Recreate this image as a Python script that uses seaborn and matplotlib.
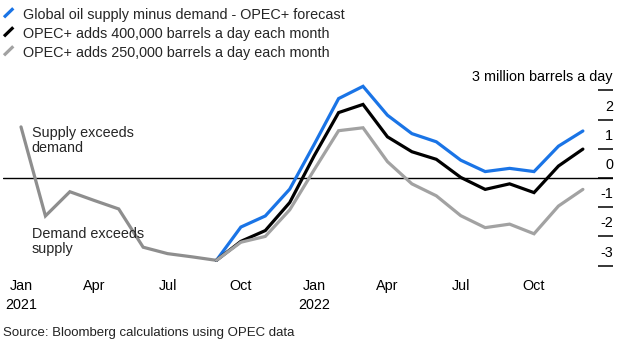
import matplotlib
matplotlib.use("Agg")
import matplotlib.pyplot as plt
from matplotlib.lines import Line2D
import matplotlib.transforms as mtransforms
import numpy as np
import pandas as pd
import seaborn as sns

# Monthly balance, million barrels a day, Jan 2021 .. Dec 2022
history_months = list(range(9))            # Jan .. Sep 2021 (actual)
history = [1.75, -1.30, -0.47, -0.77, -1.06, -2.37, -2.59, -2.70, -2.82]
forecast_months = list(range(8, 24))       # Sep 2021 .. Dec 2022
opec_forecast = [-2.82, -1.68, -1.30, -0.38, 1.15, 2.72, 3.14, 2.15, 1.52,
                 1.24, 0.61, 0.22, 0.33, 0.22, 1.09, 1.61]
adds_400k = [-2.82, -2.17, -1.80, -0.84, 0.76, 2.24, 2.52, 1.41, 0.90,
             0.64, 0.02, -0.39, -0.20, -0.50, 0.41, 0.99]
adds_250k = [-2.82, -2.20, -2.00, -1.09, 0.28, 1.62, 1.72, 0.56, -0.20,
             -0.61, -1.29, -1.70, -1.58, -1.91, -0.96, -0.39]

series_names = ["Global oil supply minus demand - OPEC+ forecast",
                "OPEC+ adds 400,000 barrels a day each month",
                "OPEC+ adds 250,000 barrels a day each month"]
series_values = [opec_forecast, adds_400k, adds_250k]
series_colors = ["#1a74e6", "#000000", "#a2a2a2"]
history_color = "#8e8e8e"

tick_months = [0, 3, 6, 9, 12, 15, 18, 21]
tick_labels = ["Jan\n2021", "Apr", "Jul", "Oct", "Jan\n2022", "Apr", "Jul", "Oct"]
y_ticks = [-3, -2, -1, 0, 1, 2, 3]
y_labels = ["-3", "-2", "-1", "0", "1", "2", "3 million barrels a day"]

n_fc = len(forecast_months)
df = pd.DataFrame({
    "month": history_months + forecast_months * 3,
    "value": history + sum(series_values, []),
    "series": ["Actual"] * len(history_months)
              + sum([[n] * n_fc for n in series_names], []),
})
hue_order = ["Actual"] + series_names
palette = [history_color] + series_colors

sns.set_style("white")
plt.rcParams["font.family"] = ["Liberation Sans", "DejaVu Sans"]
plt.rcParams["font.size"] = 10.4

W, H = 624, 343
fig = plt.figure(figsize=(W / 100, H / 100), dpi=100)

def fx(px):
    return px / W

def fy(py):
    return 1 - py / H

ax_top, ax_bot = 80.0, 265.6
ax = fig.add_axes([fx(3), fy(ax_bot), fx(613) - fx(3), (ax_bot - ax_top) / H])

sns.lineplot(data=df, x="month", y="value", hue="series", hue_order=hue_order,
             palette=palette, linewidth=2.3, legend=False, sort=False, ax=ax)
for ln in ax.lines:
    ln.set_solid_joinstyle("miter")

ax.axhline(0, color="black", linewidth=1.0, zorder=1)

px_per_unit = 29.2
ax.set_ylim(-(ax_bot - 178) / px_per_unit, (178 - ax_top) / px_per_unit)
px_per_month = 24.43
ax.set_xlim((3 - 21) / px_per_month, (613 - 21) / px_per_month)

for s in ax.spines.values():
    s.set_visible(False)

ax.set_xlabel("")
ax.set_ylabel("")
ax.set_xticks(tick_months)
ax.set_xticklabels(tick_labels, linespacing=1.45)
ax.tick_params(axis="x", direction="out", length=4, width=1, color="#333333",
               pad=5.5, labelsize=10.4, labelcolor="black")

ax.yaxis.tick_right()
ax.set_yticks(y_ticks)
ax.set_yticklabels([])
ax.tick_params(axis="y", direction="in", length=10.5, width=1.1, color="black",
               pad=0)
ax.yaxis.get_major_ticks()[0].tick2line.set_color("#9c9c9c")

trans = mtransforms.blended_transform_factory(ax.transAxes, ax.transData)
for v, lab in zip(y_ticks, y_labels):
    ax.annotate(lab, xy=(1, v), xycoords=trans, xytext=(0, 6.5),
                textcoords="offset points", ha="right", va="baseline",
                fontsize=10.4, color="black")

ax.text(0.44, 0.90, "Supply exceeds\ndemand", ha="left", va="baseline",
        fontsize=10.4, linespacing=1.1)
ax.text(0.44, -2.58, "Demand exceeds\nsupply", ha="left", va="baseline",
        fontsize=10.4, linespacing=1.1)

# Legend with slanted swatches
for i, (name, col) in enumerate(zip(series_names, series_colors)):
    base = 19.3 + 19.0 * i
    fig.add_artist(Line2D([fx(4), fx(13.3)], [fy(base - 2), fy(base - 11)],
                          transform=fig.transFigure, color=col, linewidth=2.3,
                          solid_capstyle="butt"))
    fig.text(fx(23), fy(base), name, ha="left", va="baseline", fontsize=10.4)

fig.text(fx(3), fy(336), "Source: Bloomberg calculations using OPEC data",
         ha="left", va="baseline", fontsize=9.5, color="#222222")

fig.savefig("out.png", dpi=100)
